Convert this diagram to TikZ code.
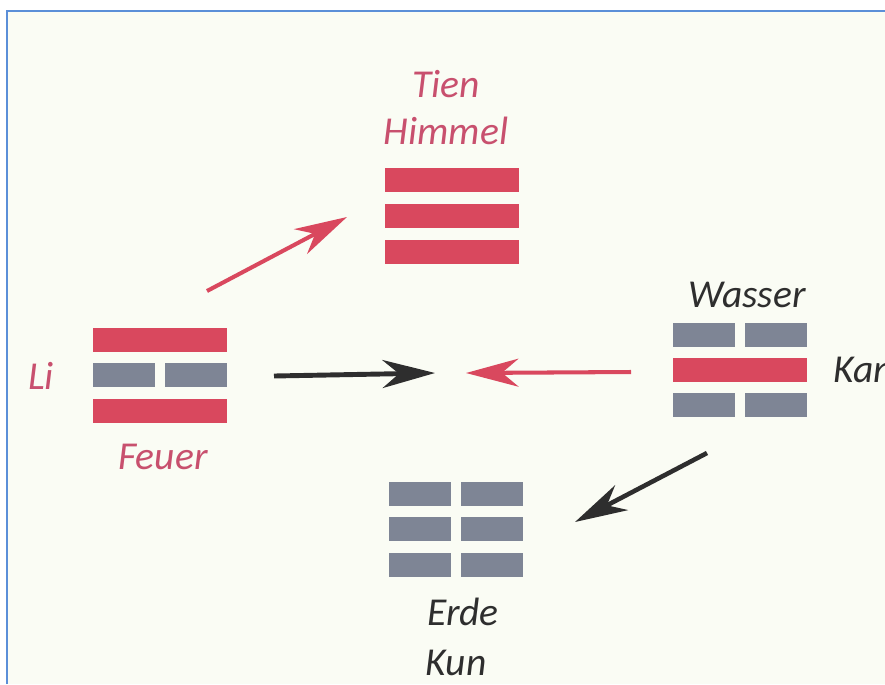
\documentclass[tikz,border=0pt]{standalone}
\usepackage{fontspec}
\setmainfont{Carlito}
\usetikzlibrary{arrows.meta}
\definecolor{trired}{HTML}{D9485E}
\definecolor{trigray}{HTML}{7E8595}
\definecolor{txtred}{HTML}{C8506E}
\definecolor{txtdark}{HTML}{2E2E2E}
\definecolor{paper}{HTML}{FAFCF4}
\definecolor{frameblue}{HTML}{5B8FD8}
\begin{document}
\begin{tikzpicture}[x=0.02cm,y=-0.02cm,
    yang/.style={fill=trired,minimum width=2.68cm,minimum height=0.48cm,inner sep=0},
    yin/.style={fill=trigray,minimum width=1.24cm,minimum height=0.48cm,inner sep=0},
    lbl/.style={font=\fontsize{22.5}{26}\selectfont\itshape,inner sep=0},
    arr/.style={line width=2.3pt,-{Stealth[length=1.05cm,width=0.56cm,inset=0.33cm]}}]
      \clip (0,0) rectangle (885,684);
      \fill[white] (0,0) rectangle (885,684);
      \fill[paper] (7,11) rectangle (885,684);
      \draw[frameblue,line width=1.3pt] (7,684) -- (7,11) -- (885,11);

      % Tien / Himmel
      \node[yang] (tienA) at (452,180) {};
      \node[yang] (tienB) at (452,216) {};
      \node[yang] (tienC) at (452,252) {};
      \node[lbl,txtred] (tienname) at (446,84) {Tien};
      \node[lbl,txtred] (himmel) at (446,131) {Himmel};

      % Li / Feuer
      \node[yang] (liA) at (160,340) {};
      \node[yin] (liBl) at (124,375) {};
      \node[yin] (liBr) at (196,375) {};
      \node[yang] (liC) at (160,411) {};
      \node[lbl,txtred] (liname) at (41,376) {Li};
      \node[lbl,txtred] (feuer) at (163,457) {Feuer};

      % Kan / Wasser
      \node[yin] (kanAl) at (704,335) {};
      \node[yin] (kanAr) at (776,335) {};
      \node[yang] (kanB) at (740,370) {};
      \node[yin] (kanCl) at (704,405) {};
      \node[yin] (kanCr) at (776,405) {};
      \node[lbl,txtdark] (wasser) at (747,295) {Wasser};
      \node[lbl,txtdark,anchor=west] (kanname) at (833,370) {Kan};

      % Kun / Erde
      \node[yin] (kunAl) at (420,494) {};
      \node[yin] (kunAr) at (492,494) {};
      \node[yin] (kunBl) at (420,529) {};
      \node[yin] (kunBr) at (492,529) {};
      \node[yin] (kunCl) at (420,565) {};
      \node[yin] (kunCr) at (492,565) {};
      \node[lbl,txtdark] (erde) at (463,612) {Erde};
      \node[lbl,txtdark] (kunname) at (456,663) {Kun};

      \coordinate (liUp) at (207,291);
      \coordinate (tienIn) at (347,217);
      \coordinate (liOut) at (274,376);
      \coordinate (mitteL) at (435,373);
      \coordinate (kanOut) at (631,372);
      \coordinate (mitteR) at (466,373);
      \coordinate (kanDown) at (707,453);
      \coordinate (kunIn) at (575,522);

      \draw[arr,trired] (liUp) -- (tienIn);
      \draw[arr,txtdark,line width=2.8pt] (liOut) -- (mitteL);
      \draw[arr,trired] (kanOut) -- (mitteR);
      \draw[arr,txtdark,line width=2.6pt] (kanDown) -- (kunIn);
    \end{tikzpicture}
\end{document}
